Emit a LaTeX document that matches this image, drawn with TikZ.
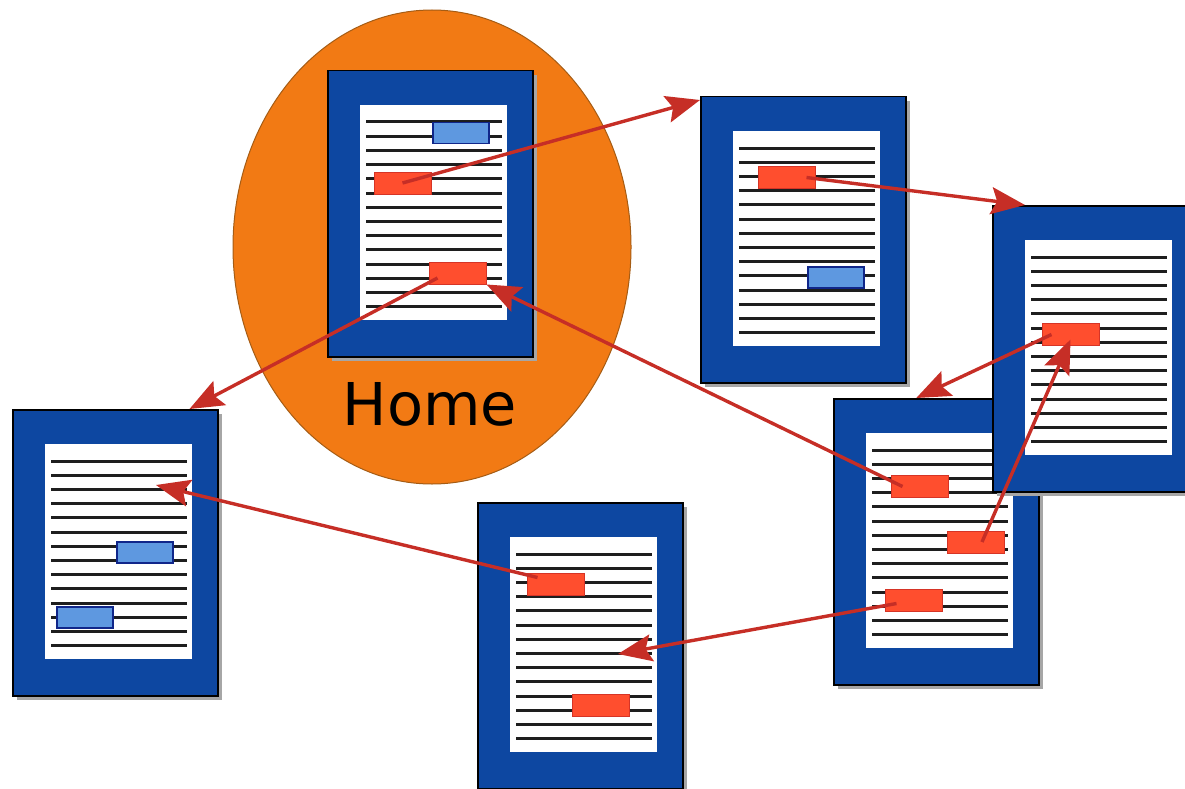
\documentclass[tikz,border=0pt]{standalone}
\usepackage{fontspec}
\newfontfamily\homefont{DejaVu Sans}
\usetikzlibrary{arrows.meta,shapes.geometric}
\definecolor{pageblue}{RGB}{13,71,161}
\definecolor{linkred}{RGB}{255,78,46}
\definecolor{linkredline}{RGB}{214,52,38}
\definecolor{linkblue}{RGB}{94,152,224}
\definecolor{linkblueline}{RGB}{16,38,138}
\definecolor{arrowred}{RGB}{198,46,38}
\definecolor{homeorange}{RGB}{242,122,20}
\definecolor{homeline}{RGB}{165,92,20}
\definecolor{textgray}{RGB}{30,30,30}
\begin{document}
\begin{tikzpicture}[x=1pt,y=-1pt,
    page/.style={draw=black,line width=1.5pt,fill=pageblue,minimum width=205pt,minimum height=286pt,inner sep=0pt,anchor=north west},
    redlink/.style={draw=linkredline,line width=1pt,fill=linkred,minimum width=57pt,minimum height=22pt,inner sep=0pt},
    bluelink/.style={draw=linkblueline,line width=1.5pt,fill=linkblue,minimum width=56pt,minimum height=21pt,inner sep=0pt},
    jump/.style={draw=arrowred,line width=3.4pt,-{Stealth[length=34pt,width=27pt,inset=6pt]}}]
    \useasboundingbox (0,0) rectangle (1185,789);
    % home area
    \node[ellipse,draw=homeline,line width=1pt,fill=homeorange,minimum width=398pt,minimum height=474pt] (homearea) at (432,247) {};
    \node[anchor=base,font=\homefont\fontsize{59}{60}\selectfont] (hometext) at (430,425) {Home};
    % pages
    \foreach \n/\x/\y in {home/327/70,p2/700/96,p4/833/398,p3/992/205,p5/477/502,p6/12/409}
    {
        \fill[gray!70] (\x+5,\y+5) rectangle (\x+210,\y+291);
        \node[page] (\n) at (\x,\y) {};
        \fill[white] (\x+33,\y+35) rectangle (\x+180,\y+250);
        \foreach \k in {0,...,13}
        {
            \draw[textgray,line width=3pt] (\x+39,\y+52+\k*14.2) -- (\x+175,\y+52+\k*14.2);
        };
    };
    % links
    \node[bluelink] (b1) at (461,133) {};
    \node[redlink] (r1) at (402.5,183) {};
    \node[redlink] (r2) at (457.5,273) {};
    \node[redlink] (r3) at (786.5,177.5) {};
    \node[bluelink] (b2) at (836,277.5) {};
    \node[redlink] (r4) at (1070.5,334.5) {};
    \node[redlink] (r5) at (919.5,486.5) {};
    \node[redlink] (r6) at (976,542) {};
    \node[redlink] (r7) at (913.5,600.5) {};
    \node[redlink] (r8) at (555.5,584.5) {};
    \node[redlink] (r9) at (600.5,705.5) {};
    \node[bluelink] (b3) at (145,552.5) {};
    \node[bluelink] (b4) at (85,617.5) {};
    % jumps
    \coordinate (t7) at (618,654);
    \coordinate (t8) at (156,485);
    \draw[jump] (r1.center) -- ([yshift=-4pt]p2.north west);
    \draw[jump] ([xshift=20pt]r3.center) -- ([xshift=33pt]p3.north west);
    \draw[jump] ([xshift=-20pt,yshift=-5pt]r2.center) -- ([xshift=-29pt]p6.north east);
    \draw[jump] ([xshift=-17pt]r5.center) -- (r2.south east);
    \draw[jump] ([xshift=6pt]r6.center) -- ([yshift=-5pt]r4.center);
    \draw[jump] ([xshift=-19pt]r4.center) -- ([xshift=-20pt]p4.north);
    \draw[jump] ([xshift=-17pt,yshift=-3pt]r7.center) -- (t7);
    \draw[jump] ([xshift=-18pt,yshift=7pt]r8.center) -- (t8);
\end{tikzpicture}
\end{document}
